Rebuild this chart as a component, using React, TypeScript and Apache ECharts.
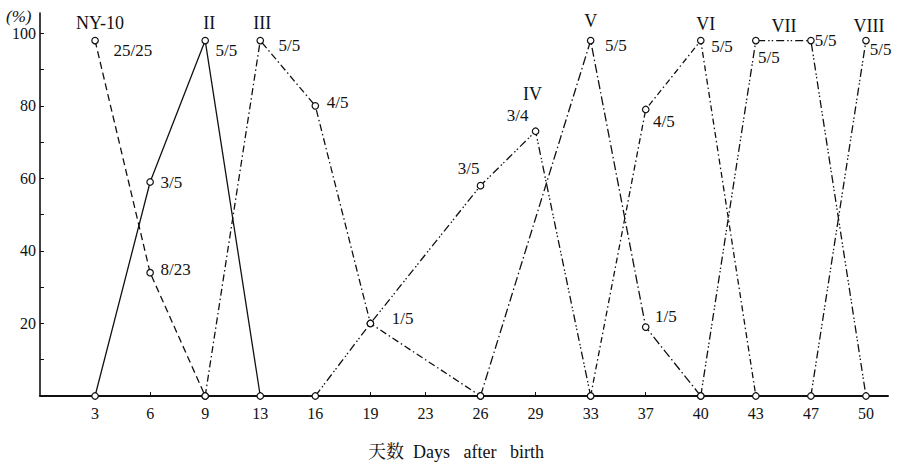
import React, { useEffect, useRef } from "react";
import * as echarts from "echarts";

// ---- data ----
const days = [3, 6, 9, 13, 16, 19, 23, 26, 29, 33, 37, 40, 43, 47, 50];
const yTickValues = [20, 40, 60, 80, 100];
const yMinorTicks = [10, 20, 30, 40, 50, 60, 70, 80, 90, 100];

const seriesNames = ["NY-10", "II", "III", "IV", "V", "VI", "VII", "VIII"];

const ny10Days = [3, 6, 9];
const ny10Values = [98, 34, 0];
const ny10Labels = ["25/25", "8/23", ""];

const iiDays = [3, 6, 9, 13];
const iiValues = [0, 59, 98, 0];
const iiLabels = ["", "3/5", "5/5", ""];

const iiiDays = [9, 13, 16, 19, 26];
const iiiValues = [0, 98, 80, 20, 0];
const iiiLabels = ["", "5/5", "4/5", "", ""];

const ivDays = [16, 19, 26, 29, 33];
const ivValues = [0, 20, 58, 73, 0];
const ivLabels = ["", "1/5", "3/5", "3/4", ""];

const vDays = [26, 33, 37, 40];
const vValues = [0, 98, 19, 0];
const vLabels = ["", "5/5", "1/5", ""];

const viDays = [33, 37, 40, 43];
const viValues = [0, 79, 98, 0];
const viLabels = ["", "4/5", "5/5", ""];

const viiDays = [40, 43, 47, 50];
const viiValues = [0, 98, 98, 0];
const viiLabels = ["", "5/5", "5/5", ""];

const viiiDays = [47, 50];
const viiiValues = [0, 98];
const viiiLabels = ["", "5/5"];

const xTitle = "天数  Days   after   birth";
const yUnit = "(%)";

// ---- styles (positions / dashes) ----
type LP = { p: string; o: [number, number] } | null;
const FONT = "'Liberation Serif', 'Times New Roman', 'Noto Serif CJK SC', 'Noto Sans CJK SC', serif";
const INK = "#111";
const LABEL_SIZE = 17;
const NAME_SIZE = 18;

const seriesStyles: {
  dash: any;
  labelPos: LP[];
  nameAt: number;
  nameOffset: [number, number];
}[] = [
  {
    dash: [7, 4],
    labelPos: [{ p: "right", o: [9.5, 10] }, { p: "right", o: [1.5, -3] }, null],
    nameAt: 0,
    nameOffset: [5, -18],
  },
  {
    dash: "solid",
    labelPos: [null, { p: "right", o: [1.5, 0] }, { p: "right", o: [1.5, 10] }, null],
    nameAt: 2,
    nameOffset: [4, -18],
  },
  {
    dash: [7, 3, 1.5, 3],
    labelPos: [null, { p: "right", o: [9.5, 5] }, { p: "right", o: [2.5, -3] }, null, null],
    nameAt: 1,
    nameOffset: [2, -18],
  },
  {
    dash: [8, 3, 1.5, 2, 1.5, 3],
    labelPos: [null, { p: "right", o: [12.5, -5] }, { p: "top", o: [-12, 0] }, { p: "top", o: [-18, 2] }, null],
    nameAt: 3,
    nameOffset: [-3, -37],
  },
  {
    dash: [9, 3, 1.5, 3],
    labelPos: [null, { p: "right", o: [5.5, 5] }, { p: "right", o: [0.5, -11] }, null],
    nameAt: 1,
    nameOffset: [0, -20],
  },
  {
    dash: [6, 3, 1.5, 3],
    labelPos: [null, { p: "right", o: [-1.5, 12] }, { p: "right", o: [1.5, 6] }, null],
    nameAt: 2,
    nameOffset: [5, -17],
  },
  {
    dash: [8, 3, 1.5, 2, 1.5, 3],
    labelPos: [null, { p: "bottom", o: [13, 0] }, { p: "right", o: [-5, 0] }, null],
    nameAt: 2,
    nameOffset: [-27, -15],
  },
  {
    dash: [8, 3, 1.5, 2, 1.5, 3],
    labelPos: [null, { p: "right", o: [-5, 9] }],
    nameAt: 1,
    nameOffset: [3, -15],
  },
];

const seriesData: [number[], number[], string[]][] = [
  [ny10Days, ny10Values, ny10Labels],
  [iiDays, iiValues, iiLabels],
  [iiiDays, iiiValues, iiiLabels],
  [ivDays, ivValues, ivLabels],
  [vDays, vValues, vLabels],
  [viDays, viValues, viLabels],
  [viiDays, viiValues, viiLabels],
  [viiiDays, viiiValues, viiiLabels],
];

const xIndex = (d: number) => days.indexOf(d) + 1;

export default function App() {
  const ref = useRef<HTMLDivElement>(null);

  useEffect(() => {
    if (!ref.current) return;
    const chart = echarts.init(ref.current, null, { renderer: "svg" });

    const series = seriesData.map(([ds, vs, ls], si) => {
      const st = seriesStyles[si];
      return {
        type: "line",
        name: seriesNames[si],
        data: ds.map((d, i) => {
          const lp = st.labelPos[i];
          return {
            value: [xIndex(d), vs[i]],
            label: lp && ls[i]
              ? {
                  show: true,
                  formatter: ls[i],
                  position: lp.p,
                  distance: 5,
                  offset: lp.o,
                  color: INK,
                  fontSize: LABEL_SIZE,
                  fontFamily: FONT,
                }
              : { show: false },
          };
        }),
        symbol: "circle",
        symbolSize: 6.5,
        itemStyle: { color: "#fff", borderColor: INK, borderWidth: 1.2 },
        lineStyle: { color: INK, width: 1.3, type: st.dash },
        z: 3,
        markPoint: {
          symbol: "circle",
          symbolSize: 0,
          silent: true,
          data: [{ coord: [xIndex(ds[st.nameAt]), vs[st.nameAt]] }],
          label: {
            show: true,
            formatter: seriesNames[si],
            position: "inside",
            offset: st.nameOffset,
            color: INK,
            fontSize: NAME_SIZE,
            fontFamily: FONT,
          },
        },
      };
    });

    chart.setOption({
      animation: false,
      backgroundColor: "#fff",
      grid: {
        left: 40,
        right: 21,
        top: 13,
        bottom: 69,
        containLabel: false,
        outerBoundsMode: "none",
      },
      xAxis: {
        type: "value",
        min: 0,
        max: 15.4,
        interval: 1,
        axisLine: { show: true, lineStyle: { color: INK, width: 2 } },
        axisTick: {
          show: true,
          inside: true,
          length: 4,
          customValues: days.map((_, i) => i + 1),
          lineStyle: { color: INK, width: 1 },
        },
        axisLabel: {
          show: true,
          customValues: days.map((_, i) => i + 1),
          formatter: (v: number) => (v >= 1 && v <= days.length && Number.isInteger(v) ? String(days[v - 1]) : ""),
          margin: 9,
          color: INK,
          fontSize: 16,
          fontFamily: FONT,
        },
        splitLine: { show: false },
      },
      yAxis: {
        type: "value",
        min: 0,
        max: 105.6,
        interval: 20,
        axisLine: { show: true, lineStyle: { color: INK, width: 1.6 } },
        axisTick: {
          show: true,
          inside: true,
          length: 4,
          customValues: yMinorTicks,
          lineStyle: { color: INK, width: 1 },
        },
        axisLabel: {
          show: true,
          customValues: yTickValues,
          margin: 4,
          color: INK,
          fontSize: 16,
          fontFamily: FONT,
        },
        splitLine: { show: false },
      },
      graphic: [
        {
          type: "text",
          x: 6,
          y: 16,
          style: {
            text: yUnit,
            fill: INK,
            fontSize: 17,
            fontFamily: FONT,
            fontStyle: "italic",
            textAlign: "left",
            verticalAlign: "middle",
          },
        },
        {
          type: "text",
          x: 456,
          y: 452,
          style: {
            text: xTitle,
            fill: INK,
            fontSize: 18,
            fontFamily: FONT,
            textAlign: "center",
            verticalAlign: "middle",
          },
        },
      ],
      series,
    });

    return () => chart.dispose();
  }, []);

  return (
    <div
      ref={ref}
      style={{ position: "absolute", left: 0, top: 0, width: 909, height: 465, background: "#fff" }}
    />
  );
}
